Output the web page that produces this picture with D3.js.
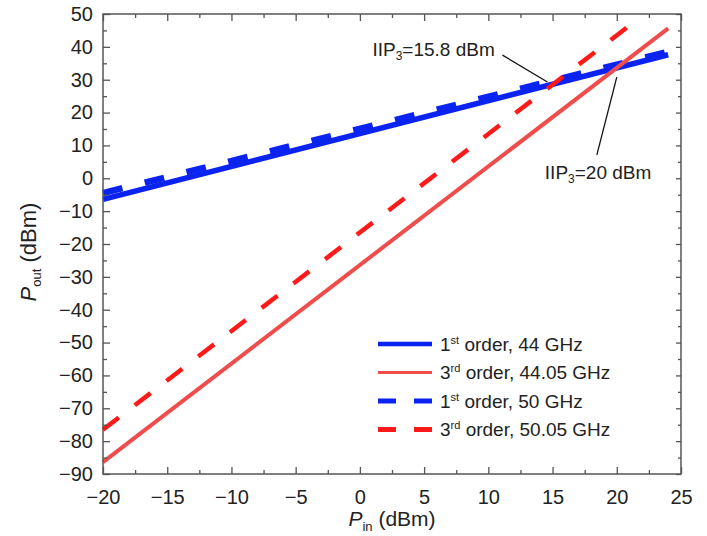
<!DOCTYPE html>
<html>
<head>
<meta charset="utf-8">
<script src="https://cdn.jsdelivr.net/npm/d3@7"></script>
<style>
  body { margin: 0; background: #fff; }
  svg { display: block; font-family: "Liberation Sans", Arial, sans-serif; }
</style>
</head>
<body>
<div id="chart"></div>
<script>
// series (input power in dBm, output power in dBm)
const pinFull = [-20, 24];
const pinShort = [-20, 22];
const first44 = [-6.4, 37.6];
const third44 = [-86.4, 45.6];
const first50 = [-4.5, 38.5];
const third50 = [-76.5, 49.5];

const legendLabels = [
  ["1", "st", " order, 44 GHz"],
  ["3", "rd", " order, 44.05 GHz"],
  ["1", "st", " order, 50 GHz"],
  ["3", "rd", " order, 50.05 GHz"]
];

const xTicks = [-20, -15, -10, -5, 0, 5, 10, 15, 20, 25];
const yTicks = [-90, -80, -70, -60, -50, -40, -30, -20, -10, 0, 10, 20, 30, 40, 50];

const width = 707, height = 536;
const margin = {top: 14, right: 26, bottom: 62, left: 103};
const innerW = width - margin.left - margin.right;
const innerH = height - margin.top - margin.bottom;

const x = d3.scaleLinear().domain([-20, 25]).range([0, innerW]);
const y = d3.scaleLinear().domain([-90, 50]).range([innerH, 0]);

const xMinor = d3.range(-17.5, 25, 5);
const yMinor = d3.range(-85, 50, 10);

const svg = d3.select("#chart").append("svg")
  .attr("width", width)
  .attr("height", height);

const g = svg.append("g").attr("transform", `translate(${margin.left},${margin.top})`);

//series styles, in legend order; drawn blue first so red sits on top
const series = [
  {pin: pinFull, pout: first44, color: "#0a23f0", w: 5.5, dash: null, z: 0},
  {pin: pinFull, pout: third44, color: "#f04c4c", w: 4, dash: null, z: 2},
  {pin: pinFull, pout: first50, color: "#0a23f0", w: 6.5, dash: "20,23", z: 1},
  {pin: pinShort, pout: third50, color: "#ff1a1a", w: 4.5, dash: "20,20", z: 3}
];

const line = d3.line().x(d => x(d[0])).y(d => y(d[1]));

const plot = g.append("g");
plot.selectAll("path")
  .data(series.slice().sort((a, b) => a.z - b.z))
  .join("path")
  .attr("d", s => line(d3.zip(s.pin, s.pout)))
  .attr("fill", "none")
  .attr("stroke", s => s.color)
  .attr("stroke-width", s => s.w)
  .attr("stroke-dasharray", s => s.dash);

// axes (ticks inside, mirrored on top and right)
const frameColor = "#555";
const styleAxis = sel => {
  sel.select(".domain").remove();
  sel.selectAll(".tick line").attr("stroke", frameColor).attr("stroke-width", 1.3);
  sel.selectAll(".tick text").attr("fill", "#222").style("font-size", "20px").style("font-family", "Liberation Sans, Arial, sans-serif");
};

g.append("g").attr("transform", `translate(0,${innerH})`)
  .call(d3.axisBottom(x).tickValues(xTicks).tickSize(-7).tickPadding(16))
  .call(styleAxis);
g.append("g").attr("transform", `translate(0,${innerH})`)
  .call(d3.axisBottom(x).tickValues(xMinor).tickSize(-4).tickFormat(""))
  .call(styleAxis);
g.append("g")
  .call(d3.axisTop(x).tickValues(xTicks).tickSize(-7).tickFormat(""))
  .call(styleAxis);
g.append("g")
  .call(d3.axisTop(x).tickValues(xMinor).tickSize(-4).tickFormat(""))
  .call(styleAxis);

g.append("g")
  .call(d3.axisLeft(y).tickValues(yTicks).tickSize(-7).tickPadding(10))
  .call(styleAxis);
g.append("g")
  .call(d3.axisLeft(y).tickValues(yMinor).tickSize(-4).tickFormat(""))
  .call(styleAxis);
g.append("g").attr("transform", `translate(${innerW},0)`)
  .call(d3.axisRight(y).tickValues(yTicks).tickSize(-5).tickFormat(""))
  .call(styleAxis);
g.append("g").attr("transform", `translate(${innerW},0)`)
  .call(d3.axisRight(y).tickValues(yMinor).tickSize(-3).tickFormat(""))
  .call(styleAxis);

g.append("rect")
  .attr("width", innerW).attr("height", innerH)
  .attr("fill", "none").attr("stroke", frameColor).attr("stroke-width", 1.5);

// axis titles
const xTitle = svg.append("text")
  .attr("x", margin.left + innerW / 2).attr("y", height - 10)
  .attr("text-anchor", "middle").attr("fill", "#222").style("font-size", "21px");
xTitle.append("tspan").text("P").style("font-style", "italic");
xTitle.append("tspan").text("in").style("font-size", "13px").attr("dy", 5);
xTitle.append("tspan").text(" (dBm)").attr("dy", -5);

const yTitle = svg.append("text")
  .attr("transform", `translate(36,${margin.top + innerH / 2 + 8}) rotate(-90)`)
  .attr("text-anchor", "middle").attr("fill", "#222").style("font-size", "22px");
yTitle.append("tspan").text("P").style("font-style", "italic");
yTitle.append("tspan").text("out").style("font-size", "13px").attr("dy", 5);
yTitle.append("tspan").text(" (dBm)").attr("dy", -5);

// IIP3 annotations
const notes = [
  {label: "15.8 dBm", tx: 10.5, ty: 39, anchor: "end", from: [11.1, 37.5], to: [14.6, 29.3]},
  {label: "20 dBm", tx: 14.4, ty: 1.6, anchor: "start", from: [18.45, 7.1], to: [20.0, 30.8]}
];
notes.forEach(n => {
  g.append("line")
    .attr("x1", x(n.from[0])).attr("y1", y(n.from[1]))
    .attr("x2", x(n.to[0])).attr("y2", y(n.to[1]))
    .attr("stroke", "#111").attr("stroke-width", 1.3);
  const t = g.append("text")
    .attr("x", x(n.tx)).attr("y", y(n.ty) + 6)
    .attr("text-anchor", n.anchor).attr("fill", "#222").style("font-size", "19px");
  t.append("tspan").text("IIP");
  t.append("tspan").text("3").style("font-size", "12px").attr("dy", 4);
  t.append("tspan").text("=" + n.label).attr("dy", -4);
});

// legend
const legend = svg.append("g").attr("transform", "translate(378,344)");
const rows = legend.selectAll("g")
  .data(series)
  .join("g")
  .attr("transform", (d, i) => `translate(0,${i * 28.5})`);
rows.append("line")
  .attr("x1", 0).attr("x2", 54)
  .attr("stroke", s => s.color)
  .attr("stroke-width", s => s.dash ? 5 : s.w - 1)
  .attr("stroke-dasharray", s => s.dash ? "18,18" : null);
const lt = rows.append("text")
  .attr("x", 62).attr("y", 6.5)
  .attr("fill", "#222").style("font-size", "19px");
lt.append("tspan").text((d, i) => legendLabels[i][0]);
lt.append("tspan").text((d, i) => legendLabels[i][1]).style("font-size", "11px").attr("dy", -7);
lt.append("tspan").text((d, i) => legendLabels[i][2]).attr("dy", 7);
</script>
</body>
</html>
